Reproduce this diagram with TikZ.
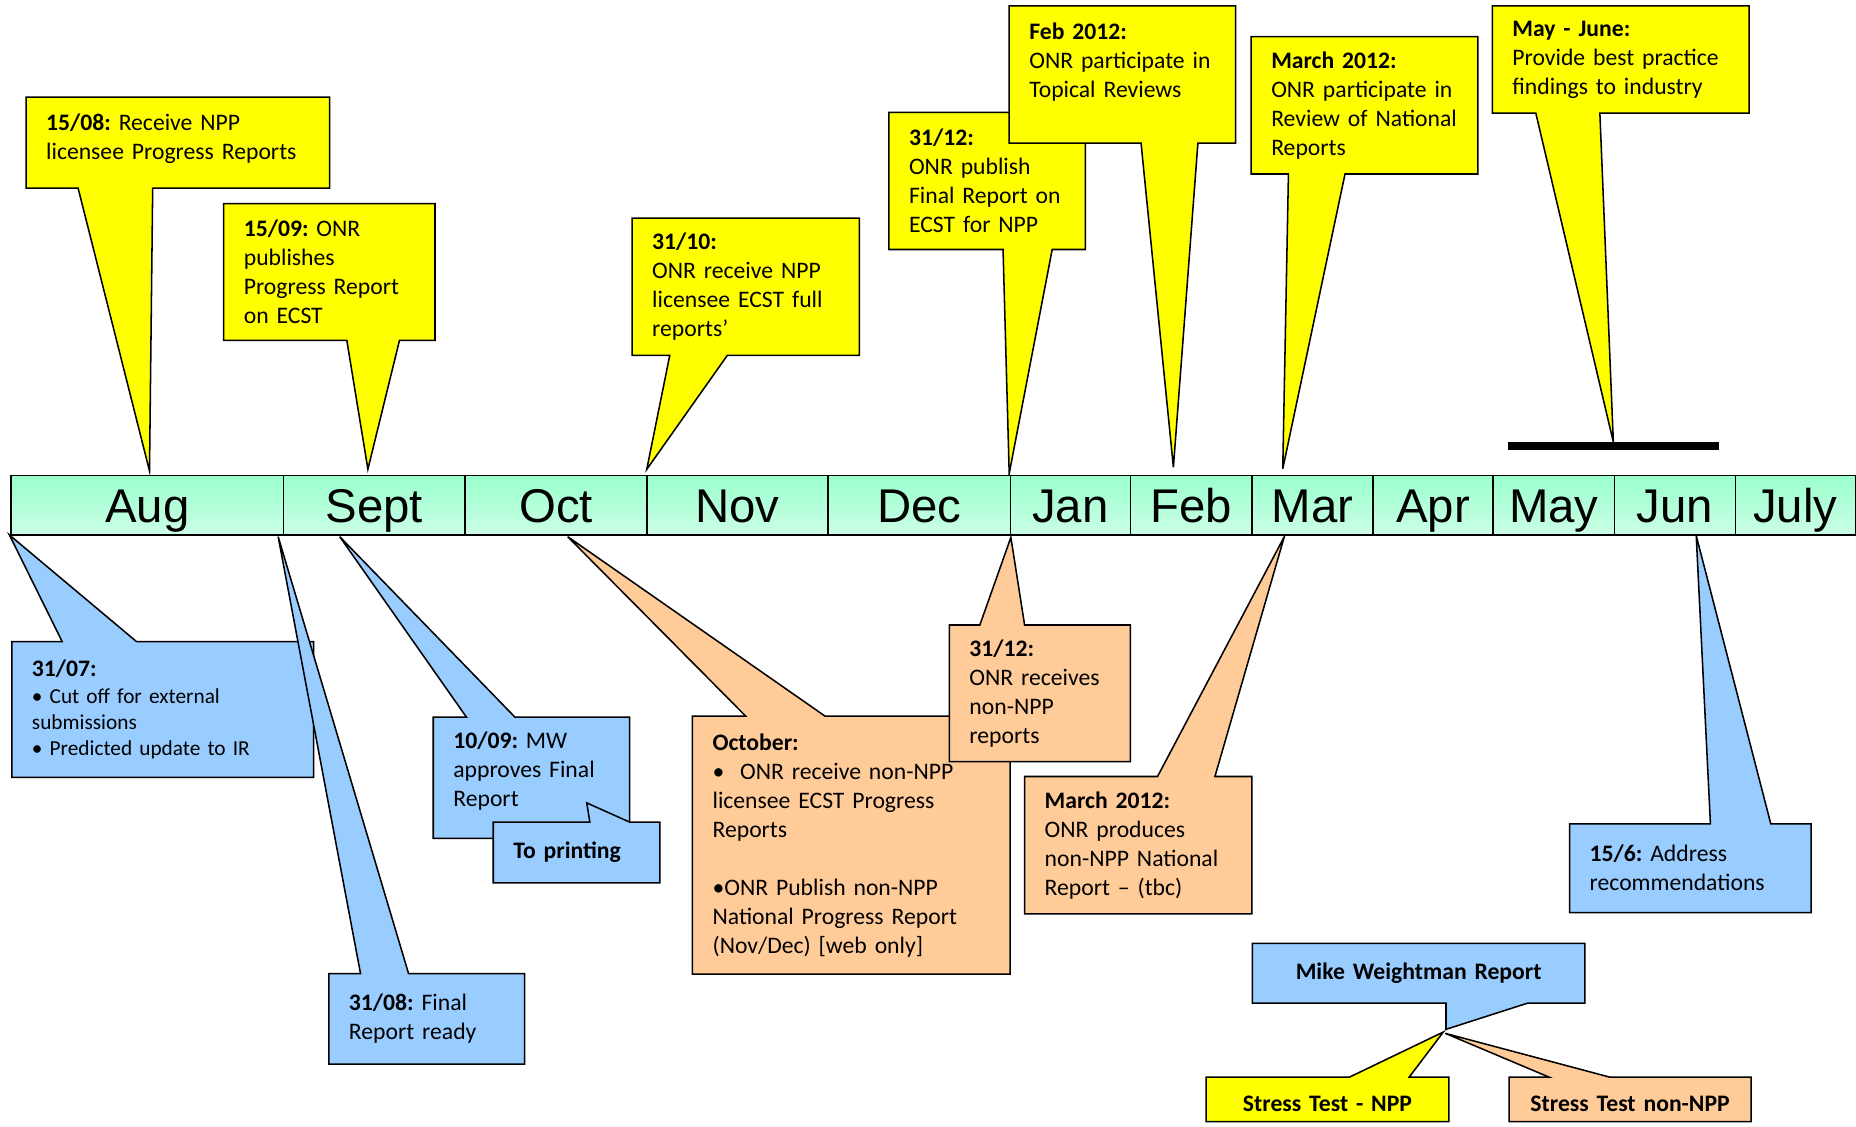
\documentclass[tikz,border=0pt]{standalone}
\usepackage{fontspec}
\setmainfont{Carlito}
\newfontfamily\monthfont{Liberation Sans}
\usetikzlibrary{calc}
\pgfdeclarelayer{back}
\pgfsetlayers{back,main}
\definecolor{noteyellow}{HTML}{FFFF00}
\definecolor{noteblue}{HTML}{99CCFF}
\definecolor{noteorange}{HTML}{FFCC99}
\definecolor{bartop}{HTML}{99FFCC}
\definecolor{barbottom}{HTML}{CCFFE6}
\frenchspacing

\begin{document}
\begin{tikzpicture}[x=1pt, y=-1pt,
  note/.style={anchor=north west, align=left, inner xsep=17pt, inner ysep=0pt, outer sep=0pt, font=\fontsize{20}{24.5}\selectfont},
  month/.style={draw, line width=1.3pt, top color=bartop, bottom color=barbottom, minimum height=50.5pt, inner sep=0pt, text height=29pt, text depth=0pt, font=\monthfont\fontsize{40}{40}\selectfont},
  ynote/.style={draw, line width=1.3pt, line join=miter, fill=noteyellow},
  bnote/.style={draw, line width=1.3pt, line join=miter, fill=noteblue},
  onote/.style={draw, line width=1.3pt, line join=miter, fill=noteorange}]
\useasboundingbox (0,0) rectangle (1568,952);

\foreach \m/\a/\b in {Aug/9.5/239.5, Sept/239.5/393, Oct/393/546.5, Nov/546.5/699.5, Dec/699.5/853.5, Jan/853.5/955, Feb/955/1057.5, Mar/1057.5/1160, Apr/1160/1261.5, May/1261.5/1364, Jun/1364/1466, July/1466/1567.4}
  \node[month, minimum width={(\b-\a)*1pt}] (\m) at ({(\a+\b)/2},426.8) {\m};

\coordinate (t1508) at (126.3,397.8);
\coordinate (t1509) at (310.8,396.4);
\coordinate (t3110) at (546.4,396.5);
\coordinate (t3112) at (852.6,400);
\coordinate (tfeb) at (991.3,394.7);
\coordinate (tmar) at (1083.7,396);
\coordinate (tmay) at (1363,373.5);
\coordinate (t3107) at (8,452);
\coordinate (t3108) at (235,453.4);
\coordinate (t1009) at (287,453.4);
\coordinate (tprint) at (495.7,678.3);
\coordinate (t156) at (1433,452.5);
\coordinate (tmw) at (1221.6,869.6);
\coordinate (toct) at (479.6,453.4);
\coordinate (t3112o) at (854,454);
\coordinate (tmar2) at (1085,453.4);
\coordinate (tsty) at (1219.3,871.9);
\coordinate (tsto) at (1221,873);
\coordinate (bar1) at (1274,377);
\coordinate (bar2) at (1452.5,377);

\node[note, text width=222.5pt, minimum height=71pt] (n1508) at (22,82) {\textbf{15/08:} Receive NPP\\licensee Progress Reports};
\node[note, text width=144.5pt, minimum height=115.5pt] (n1509) at (189,172) {\textbf{15/09:} ONR\\publishes\\Progress Report\\on ECST};
\node[note, text width=158pt, minimum height=116pt] (n3110) at (534,184.3) {\textbf{31/10:}\\ONR receive NPP\\licensee ECST full\\reports’};
\node[note, text width=132pt, minimum height=115.8pt] (n3112) at (751,95) {\textbf{31/12:}\\ONR publish\\Final Report on\\ECST for NPP};
\node[note, text width=157.2pt, minimum height=116pt] (nfeb) at (852.6,5) {\textbf{Feb 2012:}\\ONR participate in\\Topical Reviews\\\mbox{}};
\node[note, text width=157.6pt, minimum height=116pt] (nmar) at (1057,31) {\textbf{March 2012:}\\ONR participate in\\Review of National\\Reports};
\node[note, text width=183pt, minimum height=90.6pt] (nmay) at (1260.7,5) {\textbf{May - June:}\\Provide best practice\\findings to industry};
\node[note, text width=221pt, minimum height=114.7pt, font=\fontsize{18}{22}\selectfont] (n3107) at (10,542) {{\fontsize{20}{22}\selectfont\bfseries 31/07:}\\• Cut off for external\\submissions\\• Predicted update to IR};
\node[note, text width=131.4pt, minimum height=76.4pt] (n3108) at (277.8,822.6) {\textbf{31/08:} Final\\Report ready};
\node[note, text width=132pt, minimum height=92pt] (n1009) at (366,605.8) {\textbf{10/09:} MW\\approves Final\\Report};
\node[note, text width=106.7pt, minimum height=51.2pt] (nprint) at (416.7,694.6) {\textbf{To printing}};
\node[note, text width=170pt, minimum height=75pt] (n156) at (1326,696) {\textbf{15/6:} Address\\recommendations};
\node[note, text width=247pt, minimum height=50.5pt, align=center] (nmw) at (1058,797) {\textbf{Mike Weightman Report}};
\node[note, text width=234.3pt, minimum height=218pt] (noct) at (585,605) {\textbf{October:}\\•\ \ ONR receive non-NPP\\licensee ECST Progress\\Reports\\[24.5pt]•ONR Publish non-NPP\\National Progress Report\\(Nov/Dec) [web only]};
\node[note, text width=119pt, minimum height=115.5pt] (n3112o) at (802,528) {\textbf{31/12:}\\ONR receives\\non-NPP\\reports};
\node[note, text width=158pt, minimum height=116pt] (nmar2) at (865.6,656) {\textbf{March 2012:}\\ONR produces\\non-NPP National\\Report – (tbc)};
\node[note, text width=171pt, minimum height=37.5pt, align=center, text height=21pt, text depth=0pt] (nsty) at (1019,910) {\textbf{Stress Test - NPP}};
\node[note, text width=170.3pt, minimum height=37.5pt, align=center, text height=21pt, text depth=0pt] (nsto) at (1275,910) {\textbf{Stress Test non-NPP}};

\draw[line width=6.5pt] (bar1) -- (bar2);

\begin{pgfonlayer}{back}
\draw[ynote] ($(n1508.south west)+(0,6)$) -- (n1508.north west) -- (n1508.north east) -- ($(n1508.south east)+(0,6)$) -- ($(n1508.south west)+(107,6)$) -- (t1508) -- ($(n1508.south west)+(44,6)$) -- cycle;
\draw[ynote] (n1509.south west) -- (n1509.north west) -- (n1509.north east) -- (n1509.south east) -- ($(n1509.south west)+(148.5,0)$) -- (t1509) -- ($(n1509.south west)+(104,0)$) -- cycle;
\draw[ynote] (n3110.south west) -- (n3110.north west) -- (n3110.north east) -- (n3110.south east) -- ($(n3110.south west)+(80.4,0)$) -- (t3110) -- ($(n3110.south west)+(31.8,0)$) -- cycle;
\draw[ynote] (n3112.south west) -- (n3112.north west) -- (n3112.north east) -- (n3112.south east) -- ($(n3112.south west)+(137.9,0)$) -- (t3112) -- ($(n3112.south west)+(96.4,0)$) -- cycle;
\draw[ynote] (nfeb.south west) -- (nfeb.north west) -- (nfeb.north east) -- (nfeb.south east) -- ($(nfeb.south west)+(159.4,0)$) -- (tfeb) -- ($(nfeb.south west)+(111.4,0)$) -- cycle;
\draw[ynote] (nmar.south west) -- (nmar.north west) -- (nmar.north east) -- (nmar.south east) -- ($(nmar.south west)+(79.3,0)$) -- (tmar) -- ($(nmar.south west)+(31.5,0)$) -- cycle;
\draw[ynote] (nmay.south west) -- (nmay.north west) -- (nmay.north east) -- (nmay.south east) -- ($(nmay.south west)+(90.9,0)$) -- (tmay) -- ($(nmay.south west)+(36.8,0)$) -- cycle;
\draw[bnote] (n3107.south west) -- (n3107.north west) -- ($(n3107.north west)+(42.5,0)$) -- (t3107) -- ($(n3107.north west)+(105.3,0)$) -- (n3107.north east) -- (n3107.south east) -- cycle;
\draw[bnote] (n3108.south west) -- (n3108.north west) -- ($(n3108.north west)+(26.8,0)$) -- (t3108) -- ($(n3108.north west)+(67.4,0)$) -- (n3108.north east) -- (n3108.south east) -- cycle;
\draw[bnote] ($(n1009.south west)+(0,10.4)$) -- (n1009.north west) -- ($(n1009.north west)+(28,0)$) -- (t1009) -- ($(n1009.north west)+(69,0)$) -- (n1009.north east) -- ($(n1009.south east)+(0,10.4)$) -- cycle;
\draw[bnote] (nprint.south west) -- (nprint.north west) -- ($(nprint.north west)+(81.6,0)$) -- (tprint) -- ($(nprint.north west)+(115.4,0)$) -- (nprint.north east) -- (nprint.south east) -- cycle;
\draw[bnote] (n156.south west) -- (n156.north west) -- ($(n156.north west)+(119,0)$) -- (t156) -- ($(n156.north west)+(170,0)$) -- (n156.north east) -- (n156.south east) -- cycle;
\draw[onote] (noct.south west) -- (noct.north west) -- ($(noct.north west)+(45,0)$) -- (toct) -- ($(noct.north west)+(112,0)$) -- (noct.north east) -- (noct.south east) -- cycle;
\draw[onote] (n3112o.south west) -- (n3112o.north west) -- ($(n3112o.north west)+(25.8,0)$) -- (t3112o) -- ($(n3112o.north west)+(63.6,0)$) -- (n3112o.north east) -- (n3112o.south east) -- cycle;
\draw[onote] (nmar2.south west) -- (nmar2.north west) -- ($(nmar2.north west)+(112.3,0)$) -- (tmar2) -- ($(nmar2.north west)+(160.8,0)$) -- (nmar2.north east) -- (nmar2.south east) -- cycle;
\draw[bnote] (nmw.south west) -- (nmw.north west) -- (nmw.north east) -- (nmw.south east) -- ($(nmw.south west)+(232.5,0)$) -- (tmw) -- ($(nmw.south west)+(163.6,0)$) -- cycle;
\draw[ynote] (nsty.south west) -- (nsty.north west) -- ($(nsty.north west)+(121,0)$) -- (tsty) -- ($(nsty.north west)+(171.5,0)$) -- (nsty.north east) -- (nsty.south east) -- cycle;
\draw[onote] (nsto.south west) -- (nsto.north west) -- ($(nsto.north west)+(33.7,0)$) -- (tsto) -- ($(nsto.north west)+(85,0)$) -- (nsto.north east) -- (nsto.south east) -- cycle;
\end{pgfonlayer}
\end{tikzpicture}
\end{document}
